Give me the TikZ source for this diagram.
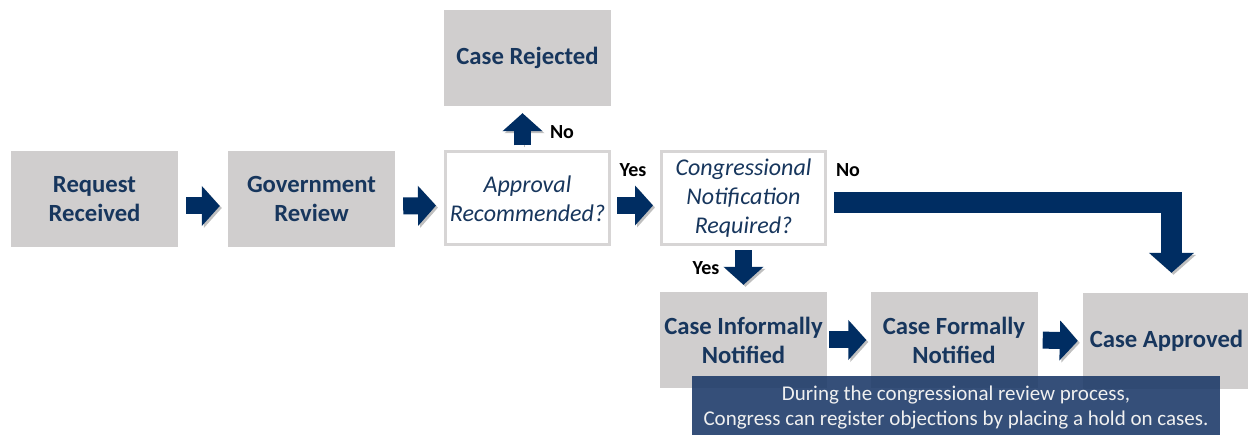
\documentclass[tikz,border=0pt]{standalone}
\usepackage{fontspec}
\setmainfont{Carlito}
\usetikzlibrary{arrows.meta}
\definecolor{boxgray}{RGB}{208,206,206}
\definecolor{navytext}{RGB}{23,54,93}
\definecolor{navyarrow}{RGB}{0,45,98}
\definecolor{capblue}{RGB}{31,60,106}
\tikzset{
  stepbox/.style={rectangle,fill=boxgray,minimum width=167pt,minimum height=96pt,inner sep=0pt,align=center,text=navytext,font=\fontsize{24.7}{29}\selectfont\bfseries},
  askbox/.style={rectangle,draw=boxgray!85,line width=3pt,fill=white,minimum width=164pt,minimum height=93pt,inner sep=0pt,align=center,text=navytext,font=\fontsize{24}{29}\selectfont\itshape},
  flow/.style={draw=navyarrow,line width=17pt,-{Triangle[length=18pt,width=39pt]},shorten <=6pt,shorten >=7pt,
    preaction={draw=black!25,transform canvas={shift={(2pt,-2pt)}}}},
  answer/.style={font=\fontsize{20}{22}\selectfont\bfseries,text=black,inner sep=0pt}
}
\begin{document}
\begin{tikzpicture}[x=1pt,y=-1pt]
\useasboundingbox (0,0) rectangle (1248,435);
\node (rr) [stepbox] at (94.5,199) {Request\\Received};
\node (gr) [stepbox] at (311.5,199) {Government\\Review};
\node (ar) [askbox] at (527.5,198.5) {Approval\\Recommended?};
\node (cj) [stepbox] at (527.5,58) {Case Rejected};
\node (cn) [askbox] at (743.5,198.5) {Congressional\\Notification\\Required?};
\node (ci) [stepbox] at (743.5,340) {Case Informally\\Notified};
\node (cf) [stepbox] at (954,340) {Case Formally\\Notified};
\node (ca) [stepbox] at (1166.5,341) {Case Approved};

\node (nor) [answer] at (562,132) {No};
\node (yesr) [answer] at (633,170) {Yes};
\node (noa) [answer] at (848,170) {No};
\node (yesb) [answer] at (706,268) {Yes};

% main line
\draw [flow,shorten <=8pt,shorten >=8pt] ([yshift=-7pt]rr.east) -- ([yshift=-7pt]gr.west);
\draw [flow,shorten <=8pt,shorten >=8pt] ([yshift=-7pt]gr.east) -- ([yshift=-7pt]ar.west);
\draw [flow] ([yshift=-7pt]ar.east) -- ([yshift=-7pt]cn.west);
\draw [flow,shorten <=5pt] ([xshift=-5pt]ar.north) -- ([xshift=-5pt]cj.south);
\draw [flow,shorten <=4pt] (cn.south) -- (ci.north);
\draw [flow,shorten <=2pt,shorten >=4pt] (ci.east) -- (cf.west);
\draw [flow,shorten <=5pt,shorten >=5pt] (cf.east) -- (ca.west);
\draw [flow,line width=21pt,-{Triangle[length=20pt,width=44pt]},shorten <=7pt,shorten >=20pt] ([yshift=-4.5pt]cn.east) -| ([xshift=5pt]ca.north);

\node (cp) [rectangle,fill=capblue,fill opacity=0.9,text opacity=1,text=white!94!black,minimum width=528pt,minimum height=64pt,inner sep=0pt,align=center,font=\fontsize{21}{25}\selectfont] at (956,408) {During the congressional review process,\\Congress can register objections by placing a hold on cases.};
\end{tikzpicture}
\end{document}
